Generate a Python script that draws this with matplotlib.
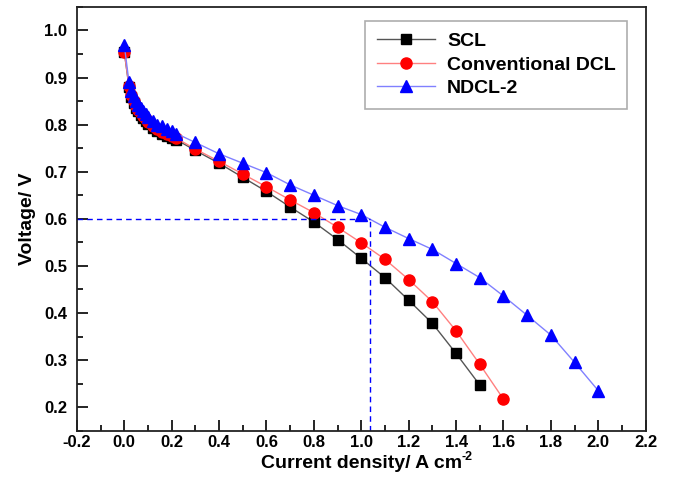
import numpy as np
import matplotlib
matplotlib.use("Agg")
import matplotlib.pyplot as plt
from matplotlib.ticker import MultipleLocator

plt.rcParams['font.family'] = ['Liberation Sans', 'DejaVu Sans']
plt.rcParams['font.weight'] = 'bold'
plt.rcParams['axes.unicode_minus'] = False

# current density (A cm-2)
x_dense = [0.0, 0.02, 0.03, 0.04, 0.05, 0.06, 0.07, 0.08, 0.09, 0.10,
           0.12, 0.14, 0.16, 0.18, 0.20, 0.22]
x_scl = x_dense + [0.3, 0.4, 0.5, 0.6, 0.7, 0.8, 0.9, 1.0, 1.1, 1.2, 1.3, 1.4, 1.5]
x_dcl = x_scl + [1.6]
x_ndcl = x_dcl + [1.7, 1.8, 1.9, 2.0]

# voltage (V)
v_scl = [0.955, 0.880, 0.858, 0.846, 0.836, 0.828, 0.820, 0.813, 0.807, 0.801,
         0.793, 0.786, 0.781, 0.776, 0.772, 0.768,
         0.745, 0.718, 0.688, 0.658, 0.625, 0.593, 0.556, 0.516, 0.475, 0.427,
         0.378, 0.314, 0.247]
v_dcl = [0.955, 0.882, 0.862, 0.850, 0.840, 0.832, 0.825, 0.818, 0.812, 0.806,
         0.798, 0.790, 0.785, 0.780, 0.776, 0.771,
         0.748, 0.722, 0.695, 0.668, 0.640, 0.613, 0.582, 0.549, 0.514, 0.471,
         0.424, 0.362, 0.291, 0.217]
v_ndcl = [0.970, 0.890, 0.872, 0.860, 0.850, 0.842, 0.835, 0.828, 0.822, 0.817,
          0.808, 0.800, 0.796, 0.790, 0.786, 0.781,
          0.762, 0.738, 0.718, 0.698, 0.672, 0.650, 0.628, 0.609, 0.582, 0.558,
          0.535, 0.505, 0.475, 0.436, 0.395, 0.353, 0.295, 0.235]

labels = ['SCL', 'Conventional DCL', 'NDCL-2']
ref_v = 0.6
ref_x = 1.037

fig = plt.figure(figsize=(6.74, 4.90), dpi=100)
ax = fig.add_axes([0.114, 0.121, 0.844, 0.865])

ax.plot(x_scl, v_scl, color='#555555', lw=1, marker='s', ms=7,
        mfc='black', mec='black', label=labels[0])
ax.plot(x_dcl, v_dcl, color='#ff8080', lw=1, marker='o', ms=8,
        mfc='red', mec='red', label=labels[1])
ax.plot(x_ndcl, v_ndcl, color='#8080ff', lw=1, marker='^', ms=8,
        mfc='blue', mec='blue', label=labels[2])

# dashed guide lines at 0.6 V
ax.plot([-0.2, ref_x], [ref_v, ref_v], color='blue', lw=1, ls=(0, (4, 3)))
ax.plot([ref_x, ref_x], [0.15, ref_v], color='blue', lw=1, ls=(0, (4, 3)))

ax.set_xlim(-0.2, 2.2)
ax.set_ylim(0.15, 1.05)
ax.xaxis.set_major_locator(MultipleLocator(0.2))
ax.xaxis.set_minor_locator(MultipleLocator(0.1))
ax.yaxis.set_minor_locator(MultipleLocator(0.05))
ax.set_yticks(np.arange(0.2, 1.01, 0.1))
ax.tick_params(which='both', direction='in', top=False, right=False, width=1.2)
ax.tick_params(which='major', length=8, labelsize=12)
ax.tick_params(axis='x', which='major', pad=3)
ax.tick_params(axis='y', which='major', pad=7)
ax.tick_params(which='minor', length=4)
for sp in ax.spines.values():
    sp.set_linewidth(1.3)
    sp.set_color('#222222')

ax.set_xlabel('Current density/ A cm', fontsize=14, fontweight='bold', labelpad=4)
ax.set_ylabel('Voltage/ V', fontsize=14, fontweight='bold', labelpad=6)
# superscript with a plain hyphen, placed after the x label
ax.annotate('-2', xy=(1.0, 0.9), xycoords=ax.xaxis.label, fontsize=9,
            fontweight='bold', ha='left', va='center')

leg = ax.legend(loc='upper right', bbox_to_anchor=(0.985, 0.99), fontsize=14,
                fancybox=False, edgecolor='#999999', handlelength=3.0,
                borderpad=0.6, labelspacing=0.3, handletextpad=0.6)
leg.get_frame().set_linewidth(1.2)

fig.savefig('out.png', dpi=100)
